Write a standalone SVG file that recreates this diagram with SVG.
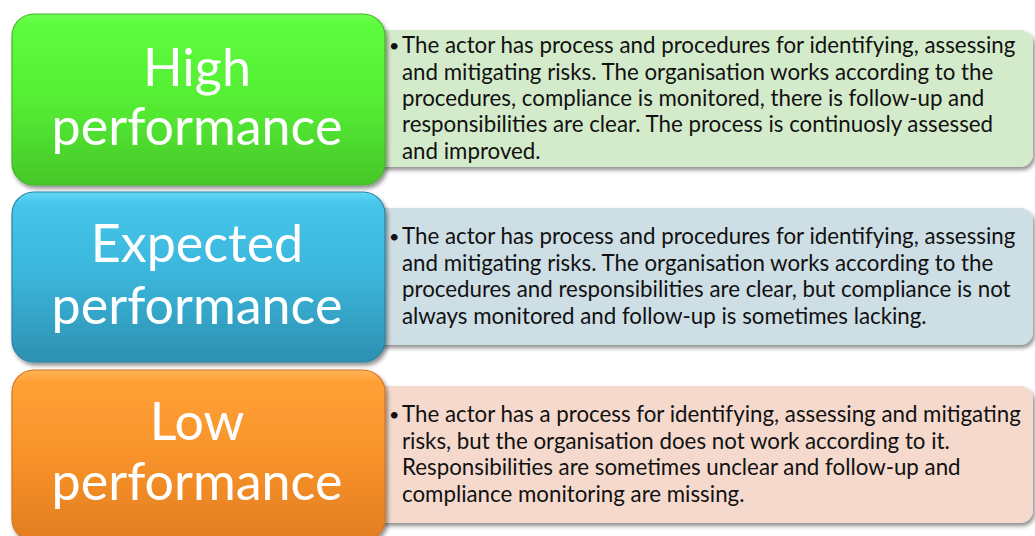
<svg xmlns="http://www.w3.org/2000/svg" width="1035" height="536" viewBox="0 0 1035 536">
  <defs>
    <linearGradient id="gGreen" x1="0" y1="0" x2="0" y2="1">
      <stop offset="0" stop-color="#6CFF50"/>
      <stop offset="0.07" stop-color="#5DFB3D"/>
      <stop offset="0.5" stop-color="#55EE34"/>
      <stop offset="1" stop-color="#47C72A"/>
    </linearGradient>
    <linearGradient id="gBlue" x1="0" y1="0" x2="0" y2="1">
      <stop offset="0" stop-color="#62D8F6"/>
      <stop offset="0.07" stop-color="#45C6EA"/>
      <stop offset="0.5" stop-color="#3BB5DA"/>
      <stop offset="1" stop-color="#2D90B1"/>
    </linearGradient>
    <linearGradient id="gOrange" x1="0" y1="0" x2="0" y2="1">
      <stop offset="0" stop-color="#FFB558"/>
      <stop offset="0.07" stop-color="#FFA036"/>
      <stop offset="0.5" stop-color="#F8932A"/>
      <stop offset="1" stop-color="#E27D22"/>
    </linearGradient>
    <filter id="shadow" x="-5%" y="-10%" width="115%" height="125%">
      <feGaussianBlur in="SourceAlpha" stdDeviation="2.2"/>
      <feOffset dx="1.5" dy="3" result="b"/>
      <feComponentTransfer><feFuncA type="linear" slope="0.45"/></feComponentTransfer>
      <feMerge><feMergeNode/><feMergeNode in="SourceGraphic"/></feMerge>
    </filter>
    <style>
      .label { font-family: Lato, "Liberation Sans", sans-serif; font-size: 52px; fill: #ffffff; text-anchor: middle; }
      .body { font-family: Lato, "Liberation Sans", sans-serif; font-size: 22.3px; fill: #111111; }
      .dot { font-family: Lato, "Liberation Sans", sans-serif; font-size: 18px; fill: #111111; }
      .card { filter: url(#shadow); }
      .tile { filter: url(#shadow); stroke-width: 1.2; }
      .green-card { fill: #D4EBCB; }
      .blue-card { fill: #CDDEE5; }
      .pink-card { fill: #F5D9CD; }
    </style>
  </defs>

  <!-- High performance row -->
  <g id="node-high">
    <rect class="card green-card" x="340" y="30" width="693" height="137" rx="13"/>
    <text class="dot" x="389" y="52">•</text>
    <text class="body" x="402" y="53">The actor has process and procedures for identifying, assessing</text>
    <text class="body" x="402" y="79.5">and mitigating risks. The organisation works according to the</text>
    <text class="body" x="402" y="105.5">procedures, compliance is monitored, there is follow-up and</text>
    <text class="body" x="402" y="132">responsibilities are clear. The process is continuosly assessed</text>
    <text class="body" x="402" y="158.5">and improved.</text>
    <rect class="tile" x="12" y="14" width="373" height="171" rx="22" fill="url(#gGreen)" stroke="#44B628"/>
    <text class="label" x="197" y="86">High</text>
    <text class="label" x="197" y="145">performance</text>
  </g>

  <!-- Expected performance row -->
  <g id="node-expected">
    <rect class="card blue-card" x="340" y="208" width="693" height="137" rx="13"/>
    <text class="dot" x="389" y="243">•</text>
    <text class="body" x="402" y="244">The actor has process and procedures for identifying, assessing</text>
    <text class="body" x="402" y="270.5">and mitigating risks. The organisation works according to the</text>
    <text class="body" x="402" y="297">procedures and responsibilities are clear, but compliance is not</text>
    <text class="body" x="402" y="323.5">always monitored and follow-up is sometimes lacking.</text>
    <rect class="tile" x="12" y="192" width="373" height="170" rx="22" fill="url(#gBlue)" stroke="#2B83A2"/>
    <text class="label" x="197" y="262">Expected</text>
    <text class="label" x="197" y="324">performance</text>
  </g>

  <!-- Low performance row -->
  <g id="node-low">
    <rect class="card pink-card" x="340" y="386" width="693" height="137" rx="13"/>
    <text class="dot" x="389" y="421">•</text>
    <text class="body" x="402" y="422">The actor has a process for identifying, assessing and mitigating</text>
    <text class="body" x="402" y="448.5">risks, but the organisation does not work according to it.</text>
    <text class="body" x="402" y="475">Responsibilities are sometimes unclear and follow-up and</text>
    <text class="body" x="402" y="501.5">compliance monitoring are missing.</text>
    <rect class="tile" x="12" y="370" width="373" height="171" rx="22" fill="url(#gOrange)" stroke="#D67420"/>
    <text class="label" x="197" y="440">Low</text>
    <text class="label" x="197" y="500">performance</text>
  </g>
</svg>
